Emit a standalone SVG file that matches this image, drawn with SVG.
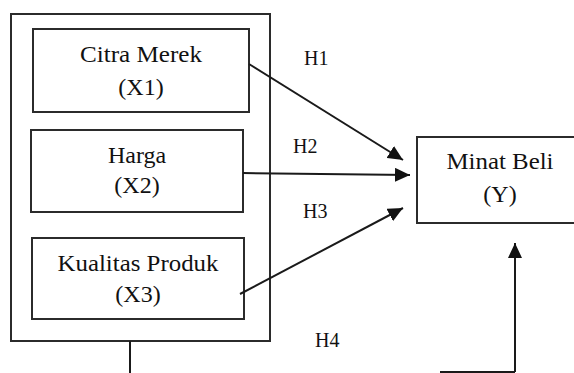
<svg xmlns="http://www.w3.org/2000/svg" width="574" height="373" viewBox="0 0 574 373">
<style>
.box{fill:#fff;stroke:#2b2b2b;stroke-width:2}
.t{font-family:"Liberation Serif","Times New Roman",serif;font-size:24px;fill:#111;text-anchor:middle}
.h{font-family:"Liberation Serif","Times New Roman",serif;font-size:20px;fill:#111}
.ln{stroke:#1a1a1a;stroke-width:2;fill:none}
</style>
<defs>
<marker id="ah" markerUnits="userSpaceOnUse" markerWidth="16" markerHeight="14" refX="15" refY="7" orient="auto">
<path d="M0,0 L15,7 L0,14 Z" fill="#111"/>
</marker>
</defs>
<rect width="574" height="373" fill="#fff"/>
<g id="group-x">
<rect class="box" x="11" y="14" width="259" height="327"/>
</g>
<g id="x1">
<rect class="box" x="33" y="29" width="216" height="83"/>
<text class="t" x="141" y="62" textLength="122" lengthAdjust="spacingAndGlyphs">Citra Merek</text>
<text class="t" x="141" y="95">(X1)</text>
</g>
<g id="x2">
<rect class="box" x="31" y="130" width="212" height="82"/>
<text class="t" x="137" y="163">Harga</text>
<text class="t" x="137" y="193">(X2)</text>
</g>
<g id="x3">
<rect class="box" x="32" y="238" width="212" height="81"/>
<text class="t" x="138" y="271" textLength="161" lengthAdjust="spacingAndGlyphs">Kualitas Produk</text>
<text class="t" x="138" y="302">(X3)</text>
</g>
<g id="y">
<rect class="box" x="417" y="137" width="170" height="86"/>
<text class="t" x="500" y="169" textLength="107" lengthAdjust="spacingAndGlyphs">Minat Beli</text>
<text class="t" x="500" y="202">(Y)</text>
</g>
<g id="connectors">
<line class="ln" x1="249" y1="64" x2="403" y2="160" marker-end="url(#ah)"/>
<line class="ln" x1="243" y1="173" x2="410" y2="175" marker-end="url(#ah)"/>
<line class="ln" x1="240" y1="294" x2="403" y2="208" marker-end="url(#ah)"/>
<line class="ln" x1="130" y1="341" x2="130" y2="373"/>
<line class="ln" x1="440" y1="372" x2="515" y2="372" stroke="#555"/>
<line class="ln" x1="515" y1="372" x2="515" y2="243" marker-end="url(#ah)"/>
</g>
<g id="labels">
<text class="h" x="304" y="65">H1</text>
<text class="h" x="293" y="153">H2</text>
<text class="h" x="303" y="218">H3</text>
<text class="h" x="315" y="347">H4</text>
</g>
</svg>
